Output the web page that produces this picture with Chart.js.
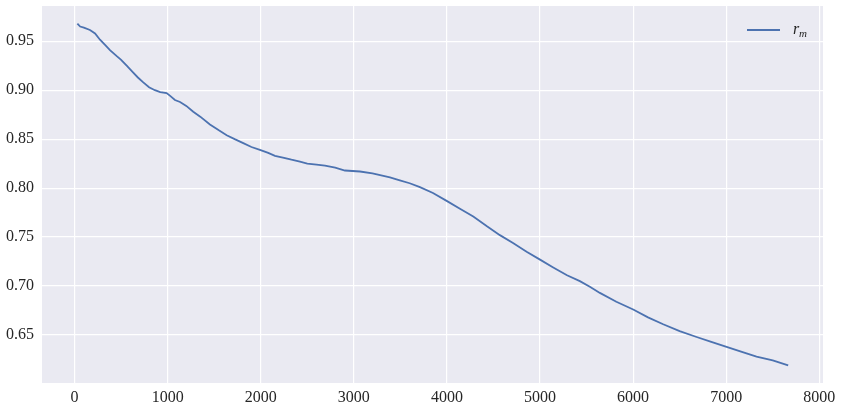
<!DOCTYPE html>
<html>
<head>
<meta charset="utf-8">
<script src="https://cdn.jsdelivr.net/npm/chart.js@4.4.1/dist/chart.umd.min.js"></script>
<style>
  html, body { margin: 0; padding: 0; background: #ffffff; }
  #wrap { width: 843px; height: 411px; }
</style>
</head>
<body>
<div id="wrap"><canvas id="rmChart" width="843" height="411"></canvas></div>
<script>
// data
const steps = [30, 60, 100, 165, 220, 273, 330, 380, 450, 500, 560, 620, 680, 738, 800, 863, 920, 989,
  1030, 1078, 1133, 1200, 1275, 1350, 1454, 1550, 1634, 1720, 1812, 1900, 1991, 2080, 2153, 2250, 2330,
  2421, 2500, 2600, 2690, 2800, 2904, 3066, 3200, 3388, 3494, 3600, 3710, 3850, 3997, 4140, 4283, 4430,
  4569, 4710, 4856, 5000, 5142, 5290, 5428, 5540, 5643, 5820, 6001, 6160, 6323, 6500, 6682, 6840, 7004,
  7160, 7326, 7500, 7666];
const rmValues = [0.968, 0.965, 0.964, 0.9615, 0.958, 0.9516, 0.946, 0.941, 0.935, 0.931, 0.925, 0.919,
  0.913, 0.908, 0.903, 0.900, 0.898, 0.897, 0.894, 0.890, 0.888, 0.884, 0.878, 0.873, 0.865, 0.859, 0.854,
  0.850, 0.846, 0.842, 0.839, 0.836, 0.833, 0.831, 0.829, 0.827, 0.825, 0.824, 0.823, 0.821, 0.818, 0.817,
  0.815, 0.811, 0.808, 0.805, 0.801, 0.795, 0.787, 0.779, 0.771, 0.761, 0.752, 0.744, 0.735, 0.727, 0.719,
  0.711, 0.705, 0.699, 0.693, 0.684, 0.676, 0.668, 0.661, 0.654, 0.648, 0.643, 0.638, 0.633, 0.628, 0.624,
  0.619];
const xTicks = [0, 1000, 2000, 3000, 4000, 5000, 6000, 7000, 8000];
const yTicks = [0.65, 0.70, 0.75, 0.80, 0.85, 0.90, 0.95];

const FONT = "'Liberation Serif', 'DejaVu Serif', serif";
const LINE_COLOR = '#4C72B0';

// grey panel behind the plot, seaborn darkgrid look
const panelBg = {
  id: 'panelBg',
  beforeDraw(chart) {
    const a = chart.chartArea;
    const ctx = chart.ctx;
    ctx.save();
    ctx.fillStyle = '#EAEAF2';
    ctx.fillRect(a.left, a.top, a.right - a.left, a.bottom - a.top);
    ctx.restore();
  }
};

// legend drawn inside the upper right corner, with r_m as italic + subscript
const innerLegend = {
  id: 'innerLegend',
  afterDraw(chart) {
    const ctx = chart.ctx;
    const a = chart.chartArea;
    const y = a.top + 24;
    const x0 = a.right - 76;
    ctx.save();
    ctx.strokeStyle = LINE_COLOR;
    ctx.lineWidth = 1.8;
    ctx.beginPath();
    ctx.moveTo(x0, y);
    ctx.lineTo(x0 + 33, y);
    ctx.stroke();
    ctx.fillStyle = '#262626';
    ctx.textBaseline = 'alphabetic';
    ctx.font = 'italic 16px ' + FONT;
    ctx.fillText('r', x0 + 46, y + 4);
    ctx.font = 'italic 11px ' + FONT;
    ctx.fillText('m', x0 + 52, y + 7);
    ctx.restore();
  }
};

new Chart(document.getElementById('rmChart'), {
  type: 'line',
  data: {
    datasets: [{
      label: 'r_m',
      data: steps.map((s, i) => ({ x: s, y: rmValues[i] })),
      borderColor: LINE_COLOR,
      borderWidth: 1.8,
      pointRadius: 0,
      tension: 0,
      fill: false
    }]
  },
  options: {
    responsive: false,
    animation: false,
    layout: { padding: { left: 0, top: 6, right: 20, bottom: 0 } },
    plugins: {
      legend: { display: false },
      tooltip: { enabled: false }
    },
    scales: {
      x: {
        type: 'linear',
        min: -350,
        max: 8040,
        afterBuildTicks: (scale) => { scale.ticks = xTicks.map(v => ({ value: v })); },
        afterFit: (scale) => {
          scale.height = 28;
          scale.paddingLeft = 0;
          scale.paddingRight = 0;
        },
        border: { display: false },
        grid: { color: '#ffffff', lineWidth: 1.2, drawTicks: false },
        ticks: {
          color: '#262626',
          padding: 5,
          maxRotation: 0,
          font: { family: FONT, size: 16 },
          callback: (v) => String(v)
        }
      },
      y: {
        type: 'linear',
        min: 0.601,
        max: 0.986,
        afterBuildTicks: (scale) => { scale.ticks = yTicks.map(v => ({ value: v })); },
        afterFit: (scale) => {
          scale.width = 42;
          scale.paddingTop = 0;
          scale.paddingBottom = 0;
        },
        border: { display: false },
        grid: { color: '#ffffff', lineWidth: 1.2, drawTicks: false },
        ticks: {
          color: '#262626',
          padding: 8,
          font: { family: FONT, size: 16 },
          callback: (v) => v.toFixed(2)
        }
      }
    }
  },
  plugins: [panelBg, innerLegend]
});
</script>
</body>
</html>
